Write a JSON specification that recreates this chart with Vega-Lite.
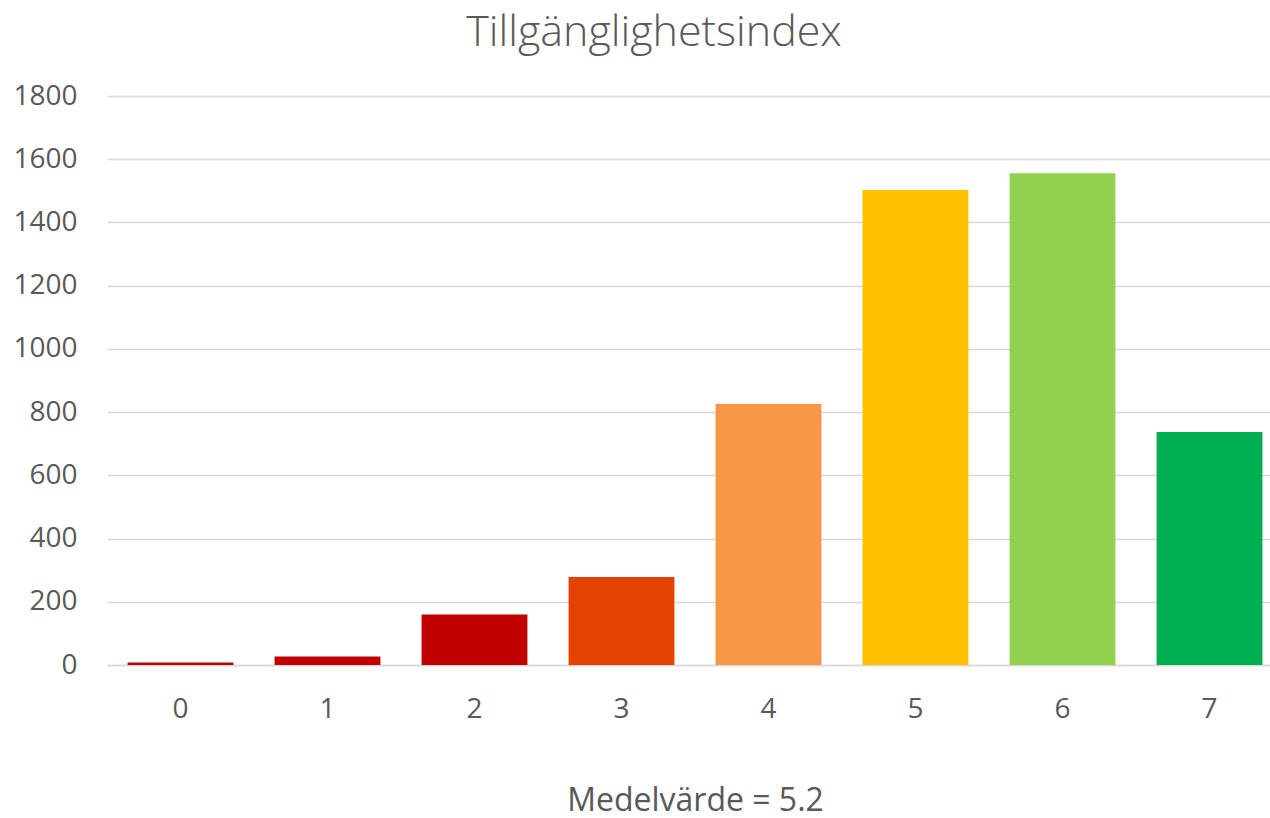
{
  "$schema": "https://vega.github.io/schema/vega-lite/v6.json",
  "autosize": "none",
  "width": 1176,
  "height": 569,
  "padding": {"left": 107, "top": 96, "right": 0, "bottom": 153},
  "background": "white",
  "title": {
    "text": "Tillgänglighetsindex",
    "font": "Open Sans",
    "fontSize": 43,
    "fontWeight": 300,
    "color": "#595959",
    "anchor": "middle",
    "dx": -41,
    "offset": 27
  },
  "data": {
    "values": [
      {"index": "0", "count": 8, "color": "#C00000"},
      {"index": "1", "count": 27, "color": "#C00000"},
      {"index": "2", "count": 160, "color": "#C00000"},
      {"index": "3", "count": 278, "color": "#E34200"},
      {"index": "4", "count": 826, "color": "#F79646"},
      {"index": "5", "count": 1503, "color": "#FFC000"},
      {"index": "6", "count": 1556, "color": "#92D050"},
      {"index": "7", "count": 737, "color": "#00B050"}
    ]
  },
  "mark": {"type": "bar"},
  "encoding": {
    "x": {
      "field": "index",
      "type": "nominal",
      "scale": {"paddingInner": 0.28, "paddingOuter": 0.14},
      "axis": {
        "title": "Medelvärde = 5.2",
        "titleFont": "Open Sans",
        "titleFontSize": 32,
        "titleFontWeight": "normal",
        "titleColor": "#595959",
        "titlePadding": 62,
        "labelAngle": 0,
        "labelFont": "Open Sans",
        "labelFontSize": 28,
        "labelColor": "#595959",
        "labelPadding": 30,
        "ticks": false,
        "domainColor": "#D9D9D9",
        "domainWidth": 1.5
      }
    },
    "y": {
      "field": "count",
      "type": "quantitative",
      "scale": {"domain": [0, 1800]},
      "axis": {
        "title": null,
        "format": "d",
        "values": [0, 200, 400, 600, 800, 1000, 1200, 1400, 1600, 1800],
        "labelFont": "Open Sans",
        "labelFontSize": 28,
        "labelColor": "#595959",
        "labelPadding": 30,
        "ticks": false,
        "domain": false,
        "gridColor": "#D9D9D9",
        "gridWidth": 1.5
      }
    },
    "color": {"field": "color", "type": "nominal", "scale": null}
  },
  "config": {"view": {"stroke": null}}
}
